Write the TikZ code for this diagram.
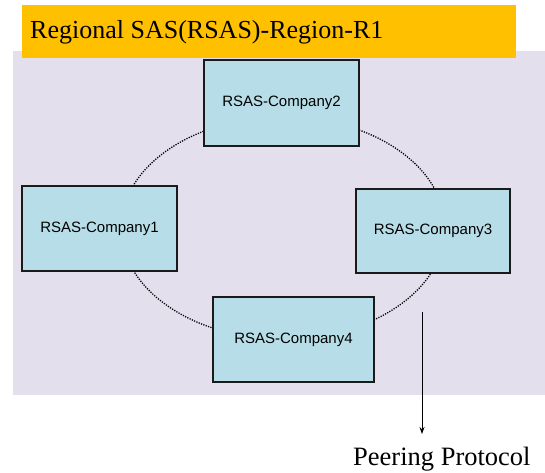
\documentclass[tikz,border=0pt]{standalone}
\usepackage{fontspec}
\setmainfont{Liberation Serif}
\newfontfamily\boxfont{Liberation Sans}
\usetikzlibrary{arrows.meta}
\definecolor{banner}{HTML}{FFC000}
\definecolor{lav}{HTML}{E4DFEC}
\definecolor{cbox}{HTML}{B7DEE8}
\definecolor{edge}{HTML}{1A1A1A}
\begin{document}
\begin{tikzpicture}[x=1pt,y=-1pt,
  company/.style={draw=edge,line width=1.4pt,fill=cbox,inner sep=0pt,
    font=\boxfont\fontsize{15}{18}\selectfont,text=black},
  peer/.style={draw=black,line width=1.3pt,dash pattern=on 1.2pt off 1.3pt},
  conn/.style={draw=black,line width=0.8pt,-{Stealth[length=7pt,width=5pt]}}]
\useasboundingbox (0,0) rectangle (545,472);
\fill[lav] (13,51) rectangle (545,395);
\fill[banner] (22,5) rectangle (516,58);
\node[anchor=base west,inner sep=0pt,font=\fontsize{26}{30}\selectfont] (title) at (30,38) {Regional SAS(RSAS)-Region-R1};
\draw[peer] (283,228) ellipse [x radius=162pt, y radius=111pt];
\node[company,minimum width=155pt,minimum height=86pt] (c2) at (281.5,103) {RSAS-Company2};
\node[company,minimum width=155pt,minimum height=85pt] (c1) at (99.5,228.5) {RSAS-Company1};
\node[company,minimum width=154pt,minimum height=84pt] (c3) at (433,231) {RSAS-Company3};
\node[company,minimum width=161pt,minimum height=85pt] (c4) at (293.5,339.5) {RSAS-Company4};
\node[anchor=base west,inner sep=0pt,font=\fontsize{26.5}{30}\selectfont] (pp) at (353,465) {Peering Protocol};
\coordinate (src) at (422,312);
\coordinate (dst) at (422,434);
\draw[conn] (src) -- (dst);
\end{tikzpicture}
\end{document}
